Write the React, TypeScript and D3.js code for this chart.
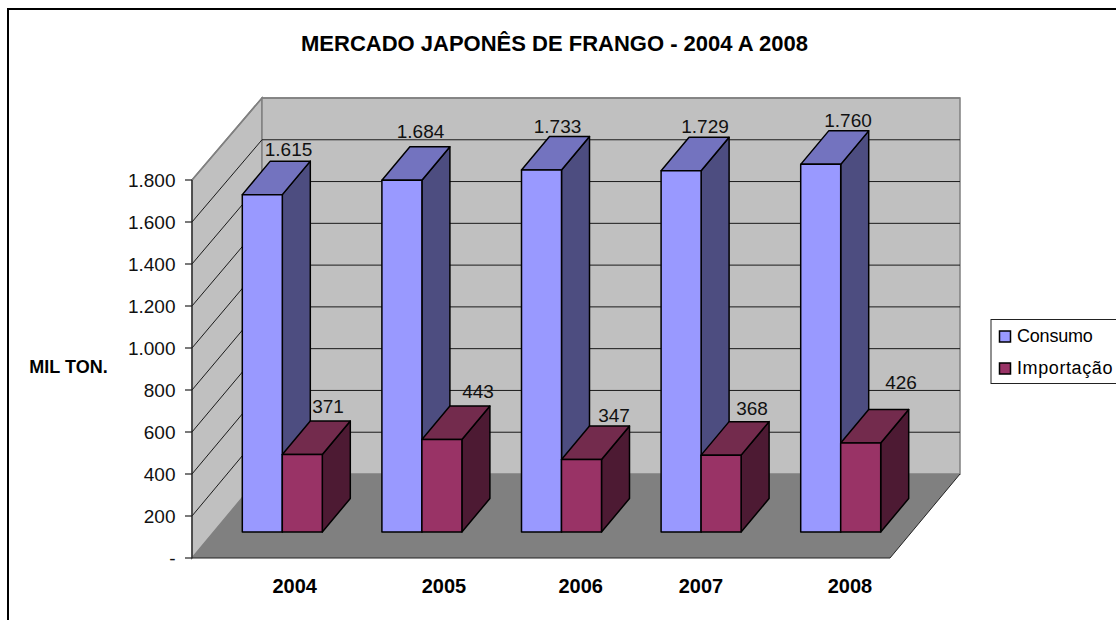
import React from "react";
import * as d3 from "d3";

const categories = ["2004", "2005", "2006", "2007", "2008"];
const consumo = [1615, 1684, 1733, 1729, 1760];
const importacao = [371, 443, 347, 368, 426];
const consumoLabels = ["1.615", "1.684", "1.733", "1.729", "1.760"];
const importacaoLabels = ["371", "443", "347", "368", "426"];
const yTicks = [0, 200, 400, 600, 800, 1000, 1200, 1400, 1600, 1800];
const yTickLabels = ["-", "200", "400", "600", "800", "1.000", "1.200", "1.400", "1.600", "1.800"];
const seriesNames = ["Consumo", "Importação"];

const font = "'Liberation Sans', Arial, sans-serif";
const C = { front: "#9999FF", top: "#7373BF", side: "#4D4D80" };
const I = { front: "#993366", top: "#732B4D", side: "#4D1A33" };

const x0 = 192, x1 = 890, wallDx = 70;
const barOffX = 20.5, barBase = 532;
const barDx = 28, barDy = -33.5;
const barW = 40;

const xBand = d3.scaleBand<string>().domain(categories).range([x0, x1]);
const yFront = d3.scaleLinear().domain([0, 1800]).range([558, 180]);
const yBack = d3.scaleLinear().domain([0, 1800]).range([474, 98]);
const h = (v: number) => yBack(0) - yBack(v);
const poly = d3.line<[number, number]>().x(d => d[0]).y(d => d[1]);
const P = (pts: [number, number][]) => poly(pts)! + "Z";

const consumoLabelPos: [number, number][] = [[288.5, 156], [420.5, 138], [557.5, 133], [705, 133], [848, 127]];
const importLabelPos: [number, number][] = [[328, 412.5], [478, 398], [614, 421.5], [752, 415], [901, 389]];
const axisLabelX = [294.7, 444, 580.7, 701, 850];

function Bar({ x, v, col }: { x: number; v: number; col: typeof C }) {
  const t = barBase - h(v);
  const b = barBase;
  const s = { stroke: "#000", strokeWidth: 1.5, strokeLinejoin: "round" as const };
  return (
    <g>
      <path d={P([[x + barW, t], [x + barW + barDx, t + barDy], [x + barW + barDx, b + barDy], [x + barW, b]])} fill={col.side} {...s} />
      <path d={P([[x, t], [x + barDx, t + barDy], [x + barW + barDx, t + barDy], [x + barW, t]])} fill={col.top} {...s} />
      <path d={P([[x, t], [x + barW, t], [x + barW, b], [x, b]])} fill={col.front} {...s} />
    </g>
  );
}

export default function App() {
  const tx = { fontFamily: font, fontSize: 19, fill: "#111" };
  const yb0 = yBack(0), ybT = yBack(1800), yf0 = yFront(0), yfT = yFront(1800);
  return (
    <svg width={1116} height={620} style={{ position: "absolute", left: 0, top: 0, background: "#fff" }}>
      <path d="M8 620V9H1116" fill="none" stroke="#000" strokeWidth={2} />
      <text x={554.5} y={51} textAnchor="middle" fontFamily={font} fontWeight="bold" fontSize={22}>MERCADO JAPONÊS DE FRANGO - 2004 A 2008</text>

      <path d={P([[x0, yf0], [x0 + wallDx, yb0], [x0 + wallDx, ybT], [x0, yfT]])} fill="#C0C0C0" stroke="#808080" strokeWidth={1.5} />
      <path d={P([[x0 + wallDx, yb0], [x1 + wallDx, yb0], [x1 + wallDx, ybT], [x0 + wallDx, ybT]])} fill="#C0C0C0" stroke="#808080" strokeWidth={1.5} />
      <path d={P([[x0, yf0], [x1, yf0], [x1 + wallDx, yb0], [x0 + wallDx, yb0]])} fill="#808080" />
      <path d={`M${x1} ${yf0}L${x1 + wallDx} ${yb0}`} stroke="#222" strokeWidth={1} />

      {yTicks.slice(1, -1).map(t => (
        <path key={t} d={`M${x0} ${yFront(t)}L${x0 + wallDx} ${yBack(t)}L${x1 + wallDx} ${yBack(t)}`} fill="none" stroke="#1a1a1a" strokeWidth={1} />
      ))}
      <path d={`M${x0} ${yfT}L${x0 + wallDx} ${ybT}H${x1 + wallDx}`} fill="none" stroke="#808080" strokeWidth={1.5} />

      <path d={`M${x0} ${yfT}V${yf0}H${x1}`} fill="none" stroke="#222" strokeWidth={1.2} />
      {yTicks.map((t, i) => (
        <g key={t}>
          <line x1={x0 - 7} x2={x0} y1={yFront(t)} y2={yFront(t)} stroke="#222" strokeWidth={1.2} />
          <text x={175.5} y={yFront(t) + 6.5} textAnchor="end" {...tx}>{yTickLabels[i]}</text>
        </g>
      ))}

      {categories.map((c, i) => {
        const x = xBand(c)! + xBand.bandwidth() / 2 - barW + barOffX;
        return (
          <g key={c}>
            <Bar x={x} v={consumo[i]} col={C} />
            <Bar x={x + barW} v={importacao[i]} col={I} />
          </g>
        );
      })}

      {categories.map((c, i) => (
        <g key={c}>
          <text x={consumoLabelPos[i][0]} y={consumoLabelPos[i][1]} textAnchor="middle" {...tx}>{consumoLabels[i]}</text>
          <text x={importLabelPos[i][0]} y={importLabelPos[i][1]} textAnchor="middle" {...tx}>{importacaoLabels[i]}</text>
          <text x={axisLabelX[i]} y={592.5} textAnchor="middle" fontFamily={font} fontWeight="bold" fontSize={20}>{c}</text>
        </g>
      ))}

      <text x={68.5} y={373} textAnchor="middle" fontFamily={font} fontWeight="bold" fontSize={18}>MIL TON.</text>

      <rect x={991} y={319.5} width={135} height={64} fill="#fff" stroke="#222" strokeWidth={1} />
      <rect x={999.5} y={331} width={11} height={11} fill={C.front} stroke="#000" strokeWidth={1.5} />
      <rect x={999.5} y={363} width={11} height={11} fill={I.front} stroke="#000" strokeWidth={1.5} />
      <text x={1017} y={342.3} fontFamily={font} fontSize={18} letterSpacing={-0.2}>{seriesNames[0]}</text>
      <text x={1017} y={374} fontFamily={font} fontSize={18} letterSpacing={0.6}>{seriesNames[1]}</text>
    </svg>
  );
}
